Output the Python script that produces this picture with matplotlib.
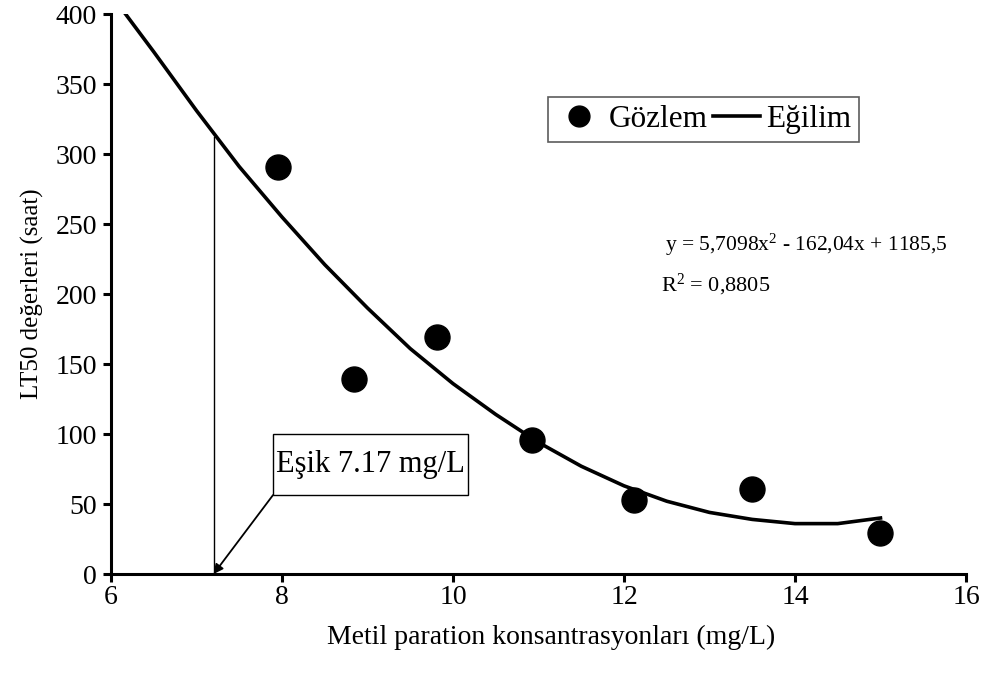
import numpy as np
import matplotlib
matplotlib.use("Agg")
import matplotlib.pyplot as plt
from matplotlib.lines import Line2D
from matplotlib.patches import Rectangle

# observed LT50 values
conc = [7.95, 8.84, 9.81, 10.92, 12.12, 13.50, 14.99]
lt50 = [291, 139, 169, 96, 53, 61, 29]

# trend line
trend_x = [6.17, 6.5, 7.0, 7.5, 8.0, 8.5, 9.0, 9.5, 10.0, 10.5, 11.0,
           11.5, 12.0, 12.5, 13.0, 13.5, 14.0, 14.5, 15.0]
trend_y = [400, 373, 331, 291, 255, 221, 190, 161, 136, 114, 94,
           77, 63, 52, 44, 39, 36, 36, 40]

threshold_x = 7.2
threshold_top = 312

plt.rcParams["font.family"] = ["Liberation Serif", "DejaVu Serif"]
plt.rcParams["mathtext.fontset"] = "custom"
plt.rcParams["mathtext.rm"] = "Liberation Serif"
plt.rcParams["mathtext.it"] = "Liberation Serif:italic"

fig = plt.figure(figsize=(9.84, 6.81), dpi=100)
ax = fig.add_axes([0.1128, 0.1571, 0.8689, 0.8223])

ax.plot(trend_x, trend_y, color="black", lw=2.6, solid_joinstyle="miter")
ax.plot(conc, lt50, "o", color="black", ms=18, ls="none")
ax.plot([threshold_x, threshold_x], [0, threshold_top], color="black", lw=1)

# threshold label box with arrow from its lower-left corner
ax.add_patch(Rectangle((7.895, 56.4), 2.28, 43.6, fc="white", ec="black", lw=1, zorder=4))
ax.text(9.035, 78.5, "Eşik 7.17 mg/L", ha="center", va="center", fontsize=22, zorder=5)
ax.annotate("", xy=(threshold_x, 0), xytext=(7.895, 56.4),
            arrowprops=dict(arrowstyle="-|>", color="black", lw=1.3,
                            shrinkA=0, shrinkB=0, mutation_scale=14))

ax.text(0.813, 0.588, "y = 5,7098x$^{2}$ - 162,04x + 1185,5", transform=ax.transAxes,
        ha="center", va="center", fontsize=15.5)
ax.text(0.707, 0.516, "R$^{2}$ = 0,8805", transform=ax.transAxes,
        ha="center", va="center", fontsize=16)

handles = [Line2D([], [], marker="o", color="black", ls="none", ms=15),
           Line2D([], [], color="black", lw=2.6)]
leg = fig.legend(handles, ["Gözlem", "Eğilim"], loc="upper left",
                 bbox_to_anchor=(548 / 984, 1 - 97 / 681), ncol=2, fontsize=22.5,
                 frameon=True, fancybox=False, edgecolor="#333333",
                 handlelength=1.5, handletextpad=0.2, columnspacing=0.15,
                 borderpad=0.25, borderaxespad=0)
leg.get_frame().set_linewidth(1.2)

ax.set_xlim(6, 16)
ax.set_ylim(0, 400)
ax.set_xticks([6, 8, 10, 12, 14, 16])
ax.set_yticks(range(0, 401, 50))
for s in ["top", "right"]:
    ax.spines[s].set_visible(False)
for s in ["left", "bottom"]:
    ax.spines[s].set_linewidth(2.2)
ax.tick_params(direction="out", length=6, width=2.2, labelsize=20)
ax.tick_params(axis="x", pad=2)
ax.tick_params(axis="y", pad=4)
ax.set_xlabel("Metil paration konsantrasyonları (mg/L)", fontsize=20, labelpad=10)
ax.xaxis.set_label_coords(0.515, -0.09)
ax.set_ylabel("LT50 değerleri (saat)", fontsize=18, labelpad=8)

fig.savefig("out.png", dpi=100)
